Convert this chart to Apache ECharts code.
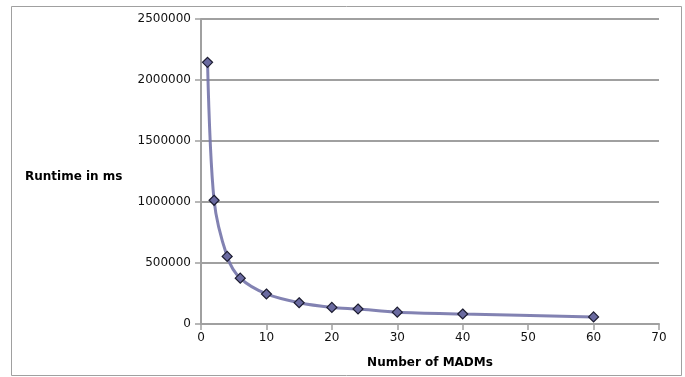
<!DOCTYPE html>
<html><head><meta charset="utf-8">
<script src="https://cdn.jsdelivr.net/npm/echarts@6/dist/echarts.min.js"></script>
<style>html,body{margin:0;padding:0;background:#fff}#c{width:685px;height:377px}</style>
</head><body><div id="c"></div>
<script>
var madms = [1, 2, 4, 6, 10, 15, 20, 24, 30, 40, 60];
var runtimes = [2145000, 1014000, 554000, 376000, 246000, 174000, 136000, 123000, 97000, 82000, 58000];
var xTicks = {min: 0, max: 70, interval: 10};
var yTicks = {min: 0, max: 2500000, interval: 500000};

var chart = echarts.init(document.getElementById('c'), null, {renderer: 'canvas'});
var font = 'DejaVu Sans';
chart.setOption({
  animation: false,
  backgroundColor: '#fff',
  graphic: [{type: 'rect', shape: {x: 11.5, y: 6.5, width: 670, height: 369}, style: {fill: 'none', stroke: '#a0a0a0', lineWidth: 1}, silent: true},
    {type: 'text', left: 25, top: 171, style: {text: 'Runtime in ms', font: 'bold 12px "DejaVu Sans"', fill: '#000'}}],
  grid: {left: 201, right: 26, top: 19, bottom: 53, containLabel: false},
  xAxis: {
    type: 'value', min: xTicks.min, max: xTicks.max, interval: xTicks.interval,
    name: 'Number of MADMs', nameLocation: 'middle', nameGap: 33,
    nameTextStyle: {fontFamily: font, fontWeight: 'bold', fontSize: 12, color: '#000'},
    axisLine: {show: true, lineStyle: {color: '#a0a0a0', width: 2}},
    axisTick: {show: true, length: 6, lineStyle: {color: '#a0a0a0', width: 1.5}},
    axisLabel: {fontFamily: font, fontSize: 12, color: '#111', margin: 8},
    splitLine: {show: false}
  },
  yAxis: {
    type: 'value', min: yTicks.min, max: yTicks.max, interval: yTicks.interval,
    axisLine: {show: true, lineStyle: {color: '#a0a0a0', width: 2}},
    axisTick: {show: true, length: 6, lineStyle: {color: '#a0a0a0', width: 1.5}},
    axisLabel: {fontFamily: font, fontSize: 12, color: '#111', margin: 10, formatter: function (v) { return String(v); }},
    splitLine: {show: true, lineStyle: {color: '#a0a0a0', width: 2}}
  },
  series: [{
    type: 'line', smooth: 0.3,
    data: madms.map(function (m, i) { return [m, runtimes[i]]; }),
    symbol: 'diamond', symbolSize: 10,
    itemStyle: {color: '#6a6aa0', borderColor: '#1c1c30', borderWidth: 1.2},
    lineStyle: {color: '#7474aa', width: 3, opacity: 0.9}
  }]
});
</script></body></html>
